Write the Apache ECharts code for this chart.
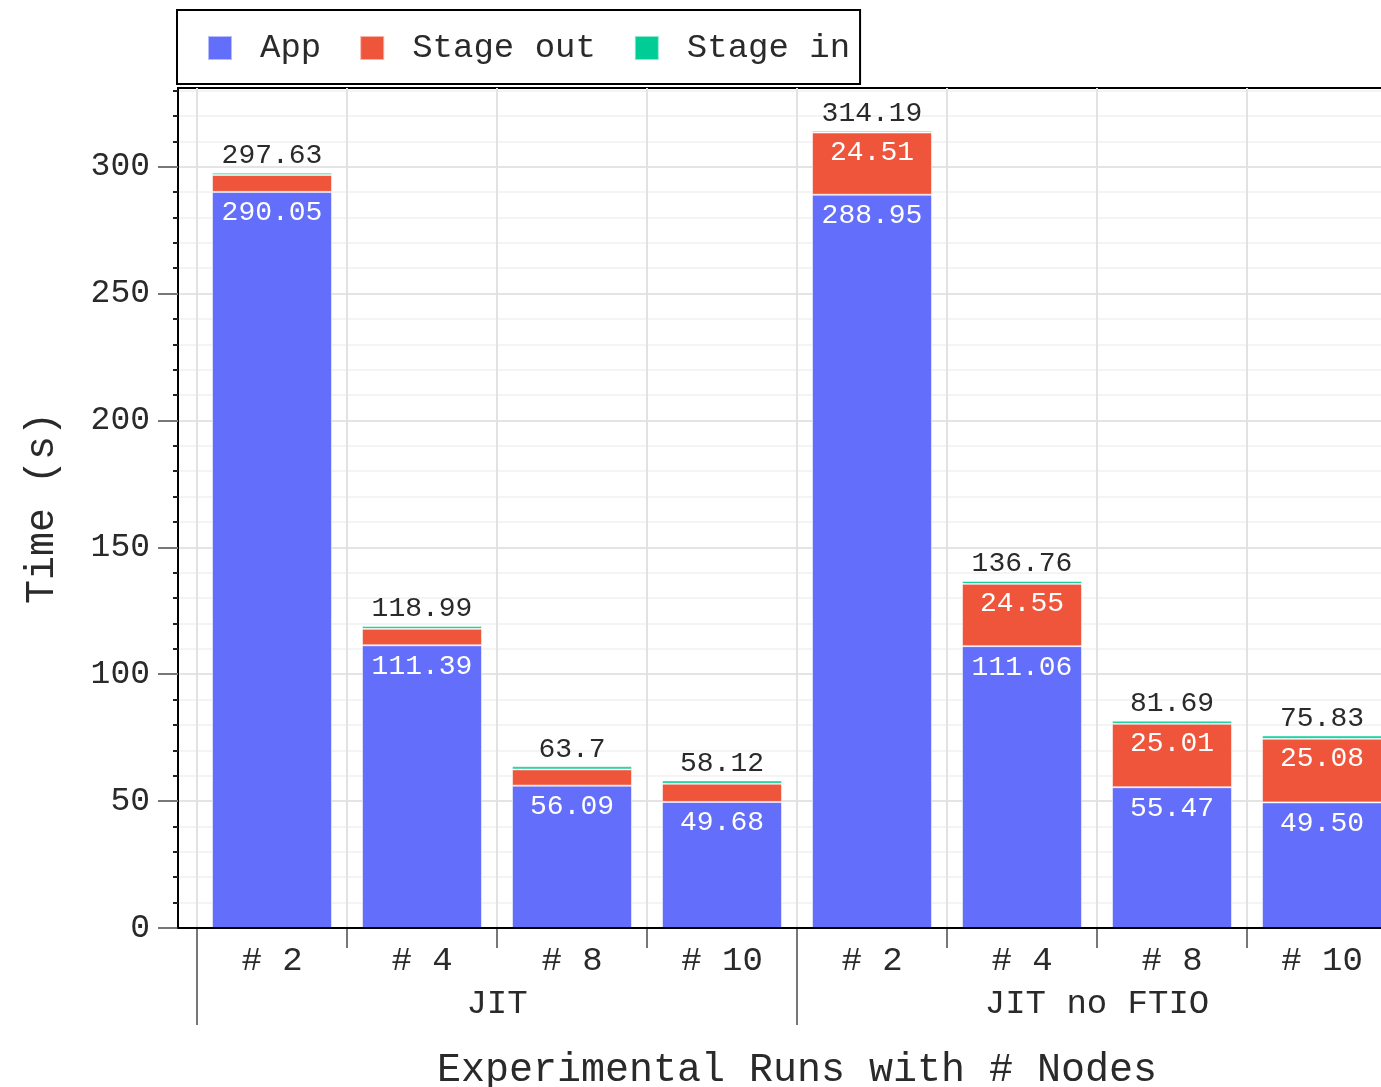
<!DOCTYPE html>
<html>
<head>
<meta charset="utf-8">
<script src="https://cdn.jsdelivr.net/npm/echarts@6/dist/echarts.min.js"></script>
<style>
html,body{margin:0;padding:0;overflow:hidden;background:#fff;}
#chart{width:1400px;height:1087px;}
</style>
</head>
<body>
<div id="chart"></div>
<script>
// ---- data ----
const categories = ['# 2', '# 4', '# 8', '# 10', '# 2', '# 4', '# 8', '# 10'];
const groups = ['JIT', 'JIT no FTIO'];
const appValues = [290.05, 111.39, 56.09, 49.68, 288.95, 111.06, 55.47, 49.50];
const stageOutValues = [6.68, 6.50, 6.41, 7.19, 24.51, 24.55, 25.01, 25.08];
const stageInValues = [0.90, 1.10, 1.20, 1.25, 0.73, 1.15, 1.21, 1.25];
const appLabels = ['290.05', '111.39', '56.09', '49.68', '288.95', '111.06', '55.47', '49.50'];
const stageOutLabels = ['', '', '', '', '24.51', '24.55', '25.01', '25.08'];
const totalLabels = ['297.63', '118.99', '63.7', '58.12', '314.19', '136.76', '81.69', '75.83'];
const yTicks = [0, 50, 100, 150, 200, 250, 300];
const yMax = 331;

const FONT = '"Liberation Mono", "Cousine", monospace';
const TXT = '#2a2a2a';

const chart = echarts.init(document.getElementById('chart'), null, {renderer: 'canvas'});

const option = {
  animation: false,
  textStyle: {fontFamily: FONT},
  legend: {
    left: 177, top: 10,
    orient: 'horizontal',
    data: ['App', 'Stage out', 'Stage in'],
    icon: 'rect',
    itemWidth: 24, itemHeight: 24,
    itemGap: 38,
    borderColor: '#000', borderWidth: 2,
    padding: [20, 10, 18, 30],
    textStyle: {fontFamily: FONT, fontSize: 34, color: TXT, padding: [0, 0, 0, 23], lineHeight: 36}
  },
  grid: [
    {left: 178, top: 88, width: 1219, height: 840, show: true, borderColor: '#000', borderWidth: 2,
      backgroundColor: 'transparent', outerBoundsMode: 'none', containLabel: false},
    {left: 197, top: 88, width: 1200, height: 840, outerBoundsMode: 'none', containLabel: false}
  ],
  xAxis: [
    {
      gridIndex: 0, type: 'value', min: 0, max: 1, z: 10,
      axisLine: {show: true, onZero: false, lineStyle: {color: '#000', width: 2}},
      axisTick: {show: false}, axisLabel: {show: false}, splitLine: {show: false}
    },
    {
      gridIndex: 1, type: 'category', data: categories, position: 'bottom',
      boundaryGap: true,
      axisLine: {show: false},
      axisTick: {show: true, length: 20, lineStyle: {color: '#777', width: 2}},
      axisLabel: {fontFamily: FONT, fontSize: 34, color: TXT, margin: 16, interval: 0},
      splitLine: {show: true, interval: 0, lineStyle: {color: '#e2e2e2', width: 2}},
      name: 'Experimental Runs with # Nodes',
      nameLocation: 'middle', nameGap: 122,
      nameTextStyle: {fontFamily: FONT, fontSize: 40, color: TXT}
    },
    {
      gridIndex: 1, type: 'category', data: groups, position: 'bottom',
      boundaryGap: true,
      axisLine: {show: false},
      axisTick: {show: true, length: 97, lineStyle: {color: '#777', width: 2}},
      axisLabel: {fontFamily: FONT, fontSize: 34, color: TXT, margin: 59, interval: 0},
      splitLine: {show: false}
    }
  ],
  yAxis: [
    {
      gridIndex: 0, type: 'value', min: 0, max: yMax, interval: 50,
      axisLine: {show: true, lineStyle: {color: '#000', width: 2}},
      axisTick: {show: true, length: 20, customValues: yTicks, lineStyle: {color: '#777', width: 2}},
      minorTick: {show: true, splitNumber: 5, length: 5, lineStyle: {color: '#222', width: 2}},
      axisLabel: {customValues: yTicks, fontFamily: FONT, fontSize: 33, color: TXT, margin: 28},
      splitLine: {show: true, lineStyle: {color: '#e4e4e4', width: 2}},
      minorSplitLine: {show: true, lineStyle: {color: '#f1f1f1', width: 1.5}},
      name: 'Time (s)', nameLocation: 'middle', nameGap: 116, nameRotate: 90,
      nameTextStyle: {fontFamily: FONT, fontSize: 40, color: TXT}
    },
    {
      gridIndex: 1, type: 'value', min: 0, max: yMax, show: false,
      splitLine: {show: false}
    }
  ],
  series: [
    {
      name: 'App', type: 'bar', stack: 'total', xAxisIndex: 1, yAxisIndex: 1,
      data: appValues, barCategoryGap: '20%', z: 3,
      itemStyle: {color: '#636efa', borderColor: 'rgba(255,255,255,0.55)', borderWidth: 1},
      label: {show: true, position: 'insideTop', distance: 7, color: '#fff', fontFamily: FONT, fontSize: 28,
        formatter: p => appLabels[p.dataIndex]}
    },
    {
      name: 'Stage out', type: 'bar', stack: 'total', xAxisIndex: 1, yAxisIndex: 1, z: 3,
      data: stageOutValues,
      itemStyle: {color: '#ef553b', borderColor: 'rgba(255,255,255,0.55)', borderWidth: 1},
      label: {show: true, position: 'insideTop', distance: 6, color: '#fff', fontFamily: FONT, fontSize: 28,
        formatter: p => stageOutLabels[p.dataIndex]}
    },
    {
      name: 'Stage in', type: 'bar', stack: 'total', xAxisIndex: 1, yAxisIndex: 1, z: 3,
      data: stageInValues,
      itemStyle: {color: '#00cc96', borderColor: 'rgba(255,255,255,0.55)', borderWidth: 1},
      label: {show: true, position: 'top', distance: 3, color: TXT, fontFamily: FONT, fontSize: 28,
        formatter: p => totalLabels[p.dataIndex]}
    }
  ]
};
chart.setOption(option);
</script>
</body>
</html>
